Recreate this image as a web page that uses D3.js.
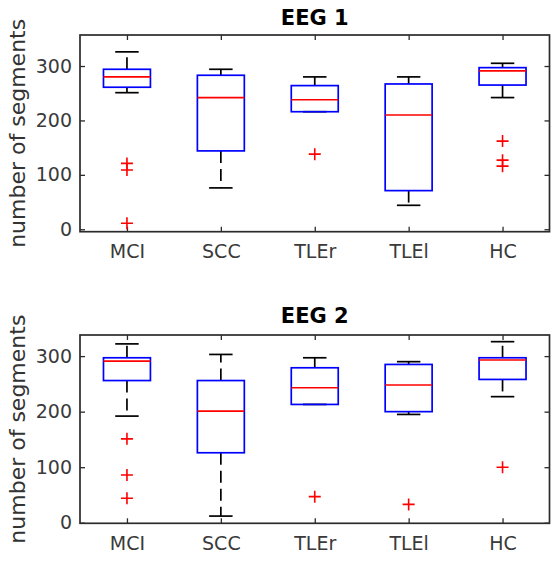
<!DOCTYPE html>
<html>
<head>
<meta charset="utf-8">
<script src="https://cdn.jsdelivr.net/npm/d3@7"></script>
<style>
  html, body { margin: 0; padding: 0; background: #fff; }
  svg { display: block; font-family: "DejaVu Sans", sans-serif; }
</style>
</head>
<body>
<script>
const categories = ["MCI", "SCC", "TLEr", "TLEl", "HC"];
const yTicks = [0, 100, 200, 300];

// EEG 1
const eeg1Upper  = [326, 294, 280, 280, 305];
const eeg1Q3     = [294, 283, 264, 267, 297];
const eeg1Median = [280, 242, 238, 210, 291];
const eeg1Q1     = [261, 144, 216, 71, 265];
const eeg1Lower  = [251, 76, 216, 44, 242];
const eeg1Outliers = [[121, 109, 11], [], [138], [], [162, 127, 116]];

// EEG 2
const eeg2Upper  = [322, 303, 297, 290, 326];
const eeg2Q3     = [297, 256, 279, 285, 297];
const eeg2Median = [291, 201, 243, 248, 293];
const eeg2Q1     = [256, 126, 213, 200, 258];
const eeg2Lower  = [192, 12, 213, 195, 227];
const eeg2Outliers = [[151, 86, 44], [], [47], [33], [100]];

const panels = [
  { title: "EEG 1", top: 35, bottom: 231.7, yDomain: [-4.5, 357], titleY: 25,
    upper: eeg1Upper, q3: eeg1Q3, median: eeg1Median, q1: eeg1Q1, lower: eeg1Lower, outliers: eeg1Outliers },
  { title: "EEG 2", top: 335, bottom: 523.3, yDomain: [-1, 338], titleY: 323,
    upper: eeg2Upper, q3: eeg2Q3, median: eeg2Median, q1: eeg2Q1, lower: eeg2Lower, outliers: eeg2Outliers }
];

const W = 551, H = 562;
const left = 80, right = 549.5;
const axisColor = "#2b2b2b";
const lw = 1.7;

const svg = d3.select("body").append("svg").attr("width", W).attr("height", H);

const x = d3.scaleLinear().domain([0.5, categories.length + 0.5]).range([left, right]);

panels.forEach(p => {
  const y = d3.scaleLinear().domain(p.yDomain).range([p.bottom, p.top]);
  const g = svg.append("g");

  const xAx = d3.axisBottom(x).tickValues(d3.range(1, categories.length + 1))
    .tickFormat(d => categories[d - 1]).tickSizeInner(-5).tickSizeOuter(0).tickPadding(13);
  const xAxTop = d3.axisTop(x).tickValues(d3.range(1, categories.length + 1))
    .tickFormat("").tickSizeInner(-5).tickSizeOuter(0);
  const yAx = d3.axisLeft(y).tickValues(yTicks).tickSizeInner(-5).tickSizeOuter(0).tickPadding(8);
  const yAxRight = d3.axisRight(y).tickValues(yTicks).tickFormat("").tickSizeInner(-5).tickSizeOuter(0);

  const gx = g.append("g").attr("transform", `translate(0,${p.bottom})`).call(xAx);
  const gxt = g.append("g").attr("transform", `translate(0,${p.top})`).call(xAxTop);
  const gy = g.append("g").attr("transform", `translate(${left},0)`).call(yAx);
  const gyr = g.append("g").attr("transform", `translate(${right},0)`).call(yAxRight);
  [gx, gxt, gy, gyr].forEach(a => {
    a.select(".domain").remove();
    a.selectAll(".tick line").attr("stroke", axisColor).attr("stroke-width", 1.3);
    a.selectAll(".tick text").attr("fill", "#3a3a3a").style("font-size", "19px")
      .style("font-family", "'DejaVu Sans', sans-serif");
  });

  g.append("rect")
    .attr("x", left).attr("y", p.top)
    .attr("width", right - left).attr("height", p.bottom - p.top)
    .attr("fill", "none").attr("stroke", axisColor).attr("stroke-width", 1.7);

  g.append("text")
    .attr("x", (left + right) / 2).attr("y", p.titleY)
    .attr("text-anchor", "middle")
    .style("font-size", "21px").style("font-weight", "bold")
    .attr("fill", "#000")
    .text(p.title);

  g.append("text")
    .attr("transform", `translate(25,${(p.top + p.bottom) / 2}) rotate(-90)`)
    .attr("text-anchor", "middle")
    .style("font-size", "22px")
    .attr("fill", "#333")
    .text("number of segments");

  const boxHalf = (x(1.25) - x(1));
  const capHalf = (x(1.125) - x(1));

  categories.forEach((c, i) => {
    const cx = x(i + 1);
    const bg = g.append("g");
    bg.append("line").attr("x1", cx).attr("x2", cx)
      .attr("y1", y(p.q3[i])).attr("y2", y(p.upper[i]))
      .attr("stroke", "#000").attr("stroke-width", lw).attr("stroke-dasharray", "12,6");
    bg.append("line").attr("x1", cx).attr("x2", cx)
      .attr("y1", y(p.q1[i])).attr("y2", y(p.lower[i]))
      .attr("stroke", "#000").attr("stroke-width", lw).attr("stroke-dasharray", "12,6");
    [p.upper[i], p.lower[i]].forEach(v => {
      bg.append("line").attr("x1", cx - capHalf).attr("x2", cx + capHalf)
        .attr("y1", y(v)).attr("y2", y(v))
        .attr("stroke", "#000").attr("stroke-width", lw);
    });
    bg.append("rect")
      .attr("x", cx - boxHalf).attr("width", 2 * boxHalf)
      .attr("y", y(p.q3[i])).attr("height", y(p.q1[i]) - y(p.q3[i]))
      .attr("fill", "none").attr("stroke", "#0000ff").attr("stroke-width", lw);
    bg.append("line").attr("x1", cx - boxHalf).attr("x2", cx + boxHalf)
      .attr("y1", y(p.median[i])).attr("y2", y(p.median[i]))
      .attr("stroke", "#ff0000").attr("stroke-width", lw);
    p.outliers[i].forEach(v => {
      const oy = y(v), s = 6;
      bg.append("path")
        .attr("d", `M${cx - s},${oy}H${cx + s}M${cx},${oy - s}V${oy + s}`)
        .attr("stroke", "#ff0000").attr("stroke-width", 1.6).attr("fill", "none");
    });
  });
});
</script>
</body>
</html>
